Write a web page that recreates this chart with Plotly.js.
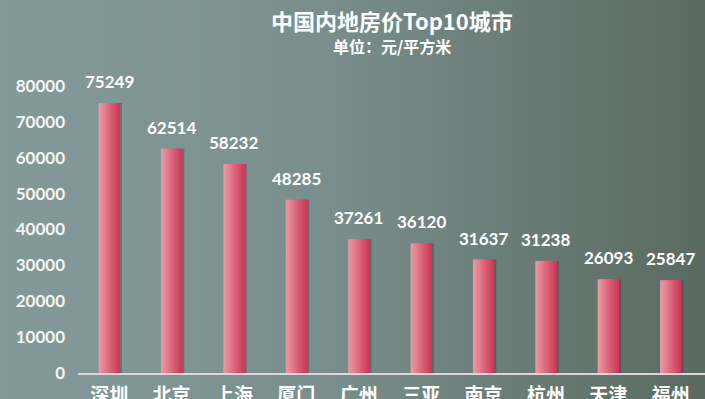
<!DOCTYPE html>
<html><head><meta charset="utf-8">
<script src="https://cdn.plot.ly/plotly-3.0.1.min.js"></script>
<style>
html,body{margin:0;padding:0;width:705px;height:399px;overflow:hidden;}
body{background:linear-gradient(to right,#849a9a 0%,#7a8f8d 45%,#5b6a61 100%);}
#chart{width:705px;height:399px;}
</style></head>
<body><div id="chart"></div>
<script>
const cities = ["深圳","北京","上海","厦门","广州","三亚","南京","杭州","天津","福州"];
const prices = [75249,62514,58232,48285,37261,36120,31637,31238,26093,25847];
const yTicks = [0,10000,20000,30000,40000,50000,60000,70000,80000];
const titleText = "中国内地房价Top10城市";
const subtitleText = "单位：元/平方米";

const fontFam = "Lato, 'Noto Sans CJK SC', sans-serif";
const barW = 0.34, nStrips = 12;
const c0 = [236,150,162], c1 = [205,58,88];
const traces = [];
// soft shadow
traces.push({type:'bar', x:cities, y:prices, width:barW, offset:-barW/2+0.035,
  marker:{color:'rgba(40,55,50,0.35)', line:{width:0}}, hoverinfo:'skip', showlegend:false});
const sw = barW/nStrips;
for (let i=0;i<nStrips;i++){
  const t = i/(nStrips-1);
  const c = c0.map((v,k)=>Math.round(v+(c1[k]-v)*t));
  const start = -barW/2+i*sw;
  const w = (i===nStrips-1) ? sw : sw*2;
  traces.push({type:'bar', x:cities, y:prices, width:w,
    offset:start, marker:{color:`rgb(${c.join(',')})`, line:{width:0}},
    hoverinfo:'skip', showlegend:false});
}
const annotations = cities.map((c,i)=>({x:c, y:prices[i], text:String(prices[i]),
  showarrow:false, yanchor:'bottom', yshift:9, font:{family:fontFam, size:17, color:'#ffffff', weight:'bold'}}));
annotations.push({xref:'paper', yref:'paper', x:0.5, y:1, yshift:66, xanchor:'center', yanchor:'middle',
  text:'<b>'+titleText+'</b>', showarrow:false, borderpad:0, font:{family:"'Noto Sans CJK SC', sans-serif", size:22, color:'#ffffff'}});
annotations.push({xref:'paper', yref:'paper', x:0.5, y:1, yshift:40, xanchor:'center', yanchor:'middle',
  text:'<b>'+subtitleText+'</b>', showarrow:false, borderpad:0, font:{family:"'Noto Sans CJK SC', sans-serif", size:16, color:'#ffffff'}});

const layout = {
  width:705, height:399,
  margin:{l:78, r:0, t:86, b:26},
  paper_bgcolor:'rgba(0,0,0,0)', plot_bgcolor:'rgba(0,0,0,0)',
  barmode:'overlay', showlegend:false,
  xaxis:{type:'category', range:[-0.5,9.55], showgrid:false, zeroline:false,
    showline:true, linecolor:'#d8d8d8', linewidth:2, ticks:'',
    tickfont:{family:"'Noto Sans CJK SC', sans-serif", size:19, color:'#ffffff', weight:'bold'}, ticklabelstandoff:4},
  yaxis:{range:[0,80000], tickvals:yTicks, ticktext:yTicks.map(String), showgrid:false, zeroline:false,
    showline:false, ticks:'', ticklabelstandoff:12,
    tickfont:{family:fontFam, size:17, color:'#f4f4f4', weight:'bold'}},
  annotations:annotations
};
Plotly.newPlot('chart', traces, layout, {displayModeBar:false, staticPlot:true});
</script></body></html>
